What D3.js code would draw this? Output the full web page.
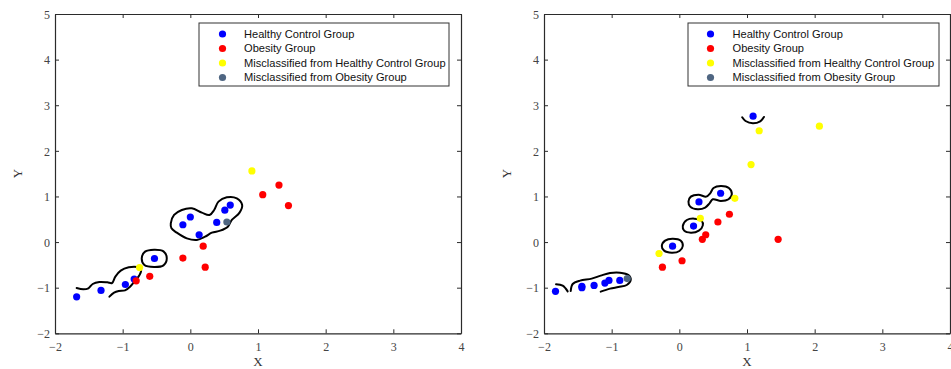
<!DOCTYPE html>
<html>
<head>
<meta charset="utf-8">
<script src="https://cdn.jsdelivr.net/npm/d3@7"></script>
<style>
  html, body { margin: 0; padding: 0; background: #fff; }
  svg { display: block; }
</style>
</head>
<body>
<svg id="chart" width="951" height="369"></svg>
<script>
// ---- Data (X, Y) ----
const xTicks = [-2, -1, 0, 1, 2, 3, 4];
const yTicks = [-2, -1, 0, 1, 2, 3, 4, 5];

const legendLabels = [
  "Healthy Control Group",
  "Obesity Group",
  "Misclassified from Healthy Control Group",
  "Misclassified from Obesity Group"
];
const groupColors = ["#0000ff", "#ff0000", "#ffff00", "#4f6682"];

// Left panel
const leftHealthy = [
  [-1.68, -1.20], [-1.32, -1.06], [-0.96, -0.93], [-0.83, -0.81], [-0.53, -0.36],
  [-0.11, 0.38], [0.00, 0.55], [0.13, 0.16], [0.39, 0.43], [0.51, 0.70], [0.59, 0.81]
];
const leftObesity = [
  [-0.80, -0.85], [-0.60, -0.75], [-0.11, -0.35], [0.19, -0.09], [0.22, -0.55],
  [1.07, 1.04], [1.31, 1.25], [1.45, 0.80]
];
const leftMisHealthy = [[-0.75, -0.56], [0.91, 1.56]];
const leftMisObesity = [[0.54, 0.44]];

// Boundary contours, left panel (closed flag, points)
const leftContours = [
  { closed: true, pts: [
    [-0.289, 0.411], [-0.24, 0.594], [-0.126, 0.704], [0.022, 0.74], [0.17, 0.645],
    [0.283, 0.594], [0.352, 0.704], [0.416, 0.886], [0.539, 0.981], [0.687, 0.959],
    [0.766, 0.813], [0.727, 0.645], [0.613, 0.484], [0.554, 0.338], [0.441, 0.25],
    [0.318, 0.206], [0.219, 0.119], [0.096, 0.046], [-0.052, 0.082], [-0.2, 0.206],
    [-0.279, 0.301]
  ]},
  { closed: true, pts: [
    [-0.718, -0.356], [-0.669, -0.21], [-0.536, -0.166], [-0.397, -0.203],
    [-0.348, -0.356], [-0.397, -0.51], [-0.536, -0.546], [-0.679, -0.503]
  ]},
  { closed: false, pts: [
    [-1.68, -1.007], [-1.581, -1.036], [-1.507, -1.014], [-1.443, -0.919],
    [-1.344, -0.875], [-1.226, -0.883], [-1.157, -0.897], [-1.108, -0.758],
    [-1.029, -0.627], [-0.91, -0.554], [-0.792, -0.546], [-0.728, -0.612],
    [-0.753, -0.729], [-0.817, -0.846], [-0.891, -0.978], [-0.965, -1.058],
    [-1.058, -1.073], [-1.127, -1.109], [-1.196, -1.197]
  ]}
];

// Right panel
const rightHealthy = [
  [-1.83, -1.08], [-1.44, -0.97], [-1.44, -1.00], [-1.26, -0.95], [-1.10, -0.90],
  [-1.04, -0.84], [-0.88, -0.84], [-0.10, -0.09], [0.21, 0.35], [0.29, 0.88],
  [0.61, 1.07], [1.09, 2.76]
];
const rightObesity = [
  [-0.25, -0.55], [0.04, -0.41], [0.34, 0.06], [0.39, 0.16], [0.57, 0.44],
  [0.74, 0.61], [1.46, 0.06]
];
const rightMisHealthy = [
  [-0.30, -0.25], [0.31, 0.52], [0.82, 0.96], [1.06, 1.70], [1.18, 2.44], [2.07, 2.54]
];
const rightMisObesity = [[-0.77, -0.80]];

const rightContours = [
  { closed: false, pts: [
    [0.929, 2.736], [0.978, 2.655], [1.087, 2.604], [1.195, 2.648], [1.25, 2.743]
  ]},
  { closed: true, pts: [
    [0.135, 0.886], [0.17, 0.996], [0.283, 1.04], [0.397, 0.996], [0.456, 1.069],
    [0.505, 1.186], [0.614, 1.23], [0.732, 1.186], [0.776, 1.055], [0.727, 0.938],
    [0.614, 0.901], [0.495, 0.938], [0.446, 0.85], [0.382, 0.755], [0.273, 0.718],
    [0.16, 0.777]
  ]},
  { closed: true, pts: [
    [0.051, 0.353], [0.111, 0.484], [0.219, 0.514], [0.328, 0.47],
    [0.347, 0.367], [0.288, 0.251], [0.17, 0.207], [0.071, 0.251]
  ]},
  { closed: true, pts: [
    [-0.259, -0.086], [-0.21, 0.031], [-0.101, 0.075], [0.022, 0.031],
    [0.051, -0.086], [0.002, -0.195], [-0.111, -0.232], [-0.225, -0.188]
  ]},
  { closed: false, pts: [
    [-1.822, -0.926], [-1.724, -0.956], [-1.65, -1.08]
  ]},
  { closed: false, pts: [
    [-1.605, -1.073], [-1.576, -0.919], [-1.467, -0.846], [-1.295, -0.802],
    [-1.162, -0.736], [-1.024, -0.678], [-0.876, -0.671], [-0.752, -0.722],
    [-0.718, -0.831], [-0.777, -0.941], [-0.9, -0.985], [-1.024, -1.021],
    [-1.162, -1.087]
  ]}
];

// ---- Layout ----
const panels = [
  { left: 55, right: 461, groups: [leftHealthy, leftObesity, leftMisHealthy, leftMisObesity],
    contours: leftContours, legendX: 199, legendW: 250, markerX: 23.5, textX: 45 },
  { left: 544, right: 950, groups: [rightHealthy, rightObesity, rightMisHealthy, rightMisObesity],
    contours: rightContours, legendX: 688, legendW: 251, markerX: 22.5, textX: 44.5 }
];
const plotTop = 14, plotBottom = 333.3;
const axisColor = "#2b2b2b";
const serif = "'Liberation Serif', 'DejaVu Serif', serif";

const svg = d3.select("#chart");
svg.append("rect").attr("width", 951).attr("height", 369).attr("fill", "#fff");

panels.forEach(p => {
  const x = d3.scaleLinear().domain([-2, 4]).range([p.left, p.right]);
  const y = d3.scaleLinear().domain([-2, 5]).range([plotBottom, plotTop]);
  const g = svg.append("g");

  // Contours
  p.contours.forEach(c => {
    const line = d3.line()
      .x(d => x(d[0])).y(d => y(d[1]))
      .curve(c.closed ? d3.curveCatmullRomClosed.alpha(0.5) : d3.curveCatmullRom.alpha(0.5));
    g.append("path")
      .attr("d", line(c.pts))
      .attr("fill", "none")
      .attr("stroke", "#000")
      .attr("stroke-width", 2)
      .attr("stroke-linecap", "round")
      .attr("stroke-linejoin", "round");
  });

  // Points
  p.groups.forEach((pts, gi) => {
    g.selectAll(null).data(pts).enter().append("circle")
      .attr("cx", d => x(d[0]))
      .attr("cy", d => y(d[1]))
      .attr("r", 3.6)
      .attr("fill", groupColors[gi]);
  });

  // Axes (ticks pointing inward, box all around)
  const bottom = g.append("g").attr("transform", `translate(0,${plotBottom})`)
    .call(d3.axisBottom(x).tickValues(xTicks).tickSizeInner(-4).tickSizeOuter(0)
      .tickPadding(9).tickFormat(d3.format("d")));
  const leftAx = g.append("g").attr("transform", `translate(${p.left},0)`)
    .call(d3.axisLeft(y).tickValues(yTicks).tickSizeInner(-4).tickSizeOuter(0)
      .tickPadding(5).tickFormat(d3.format("d")));
  const top = g.append("g").attr("transform", `translate(0,${plotTop})`)
    .call(d3.axisTop(x).tickValues(xTicks).tickSizeInner(-4).tickSizeOuter(0).tickFormat(""));
  const rightAx = g.append("g").attr("transform", `translate(${p.right},0)`)
    .call(d3.axisRight(y).tickValues(yTicks).tickSizeInner(-4).tickSizeOuter(0).tickFormat(""));

  [bottom, leftAx, top, rightAx].forEach(a => {
    a.selectAll(".domain").attr("stroke", axisColor).attr("stroke-width", 1.2);
    a.selectAll(".tick line").attr("stroke", axisColor);
    a.selectAll(".tick text").attr("fill", "#444").style("font-family", serif).style("font-size", "12px");
  });
  leftAx.selectAll(".tick text").attr("dy", "0.35em");

  // Axis titles
  g.append("text")
    .attr("x", (p.left + p.right) / 2).attr("y", 366)
    .attr("text-anchor", "middle")
    .style("font-family", serif).style("font-size", "13px").attr("fill", "#333")
    .text("X");
  g.append("text")
    .attr("transform", `translate(${p.left - 33},${(plotTop + plotBottom) / 2}) rotate(-90)`)
    .attr("text-anchor", "middle")
    .style("font-family", serif).style("font-size", "13px").attr("fill", "#333")
    .text("Y");

  // Legend
  const lg = g.append("g").attr("transform", `translate(${p.legendX},23)`);
  lg.append("rect")
    .attr("width", p.legendW).attr("height", 63)
    .attr("fill", "#fff").attr("stroke", "#333").attr("stroke-width", 1);
  legendLabels.forEach((lab, i) => {
    const ry = 11 + i * 14.5;
    lg.append("circle").attr("cx", p.markerX).attr("cy", ry).attr("r", 3.6)
      .attr("fill", groupColors[i]);
    lg.append("text")
      .attr("x", p.textX).attr("y", ry).attr("dy", "0.35em")
      .style("font-family", "'Liberation Sans', Arial, sans-serif")
      .style("font-size", "11.1px").attr("fill", "#111")
      .text(lab);
  });
});
</script>
</body>
</html>
